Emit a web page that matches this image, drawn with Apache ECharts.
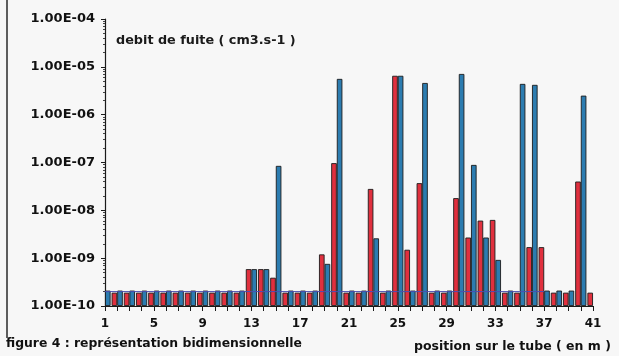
<!DOCTYPE html>
<html>
<head>
<meta charset="utf-8">
<script src="https://cdn.jsdelivr.net/npm/echarts@6/dist/echarts.min.js"></script>
<style>
  html, body { margin: 0; padding: 0; background: #f7f7f7; }
  #chart { width: 619px; height: 356px; }
</style>
</head>
<body>
<div id="chart"></div>
<script>
// Positions along the tube (m)
const positions = ['1','2','3','4','5','6','7','8','9','10','11','12','13','14','15','16','17','18','19','20',
  '21','22','23','24','25','26','27','28','29','30','31','32','33','34','35','36','37','38','39','40','41'];

// Leak rate, first measurement (cm3.s-1); nothing recorded before position 1
const leakRed = [null,1.9e-10,1.9e-10,1.9e-10,1.9e-10,1.9e-10,1.9e-10,1.9e-10,1.9e-10,1.9e-10,
  1.9e-10,1.9e-10,5.9e-10,5.9e-10,3.9e-10,1.9e-10,1.9e-10,1.9e-10,1.2e-9,9.7e-8,
  1.9e-10,1.9e-10,2.8e-8,1.9e-10,6.5e-6,1.5e-9,3.7e-8,1.9e-10,1.9e-10,1.8e-8,
  2.7e-9,6.1e-9,6.3e-9,1.9e-10,1.9e-10,1.7e-9,1.7e-9,1.9e-10,1.9e-10,4.0e-8,1.9e-10];

// Leak rate, second measurement (cm3.s-1); nothing recorded after position 40
const leakBlue = [2.1e-10,2.1e-10,2.1e-10,2.1e-10,2.1e-10,2.1e-10,2.1e-10,2.1e-10,2.1e-10,2.1e-10,
  2.1e-10,2.1e-10,5.9e-10,5.9e-10,8.5e-8,2.1e-10,2.1e-10,2.1e-10,7.6e-10,5.6e-6,
  2.1e-10,2.1e-10,2.6e-9,2.1e-10,6.5e-6,2.1e-10,4.6e-6,2.1e-10,2.1e-10,7.1e-6,
  8.9e-8,2.7e-9,9.2e-10,2.1e-10,4.4e-6,4.2e-6,2.1e-10,2.1e-10,2.1e-10,2.5e-6,null];

// Detection floor line
const floorLine = [2e-10,2e-10,2e-10,2e-10,2e-10,2e-10,2e-10,2e-10,2e-10,2e-10,
  2e-10,2e-10,2e-10,2e-10,2e-10,2e-10,2e-10,2e-10,2e-10,2e-10,
  2e-10,2e-10,2e-10,2e-10,2e-10,2e-10,2e-10,2e-10,2e-10,2e-10,
  2e-10,2e-10,2e-10,2e-10,2e-10,2e-10,2e-10,null,null,null,null];

// Y scale limits (cm3.s-1)
const yMin = 1e-10;
const yMax = 1e-4;

// The log axis grows bars from 1, so values are plotted in units of yMin
// to make the bars rise from the bottom of the axis.
const inUnits = arr => arr.map(v => (v == null ? null : v / yMin));

const FONT = '"DejaVu Sans", Verdana, sans-serif';

function sciLabel(u) {
  const v = u * yMin;
  const e = Math.round(Math.log10(v));
  const m = v / Math.pow(10, e);
  const a = Math.abs(e);
  return m.toFixed(2) + 'E' + (e < 0 ? '-' : '') + (a < 10 ? '0' + a : a);
}

const chart = echarts.init(document.getElementById('chart'), null, { renderer: 'canvas' });
chart.setOption({
  backgroundColor: '#f7f7f7',
  animation: false,
  grid: { left: 105, right: 26, top: 19, bottom: 50, containLabel: false },
  xAxis: {
    type: 'category',
    data: positions,
    boundaryGap: false,
    axisLine: { lineStyle: { color: '#1a1a1a', width: 1.2 } },
    axisTick: { show: true, interval: 0, length: 5, lineStyle: { color: '#1a1a1a' } },
    axisLabel: { interval: 3, margin: 12, color: '#111', fontFamily: FONT, fontWeight: 'bold', fontSize: 12 },
    splitLine: { show: false }
  },
  yAxis: {
    type: 'log',
    logBase: 10,
    min: 1,
    max: yMax / yMin,
    splitNumber: 6,
    axisLine: { show: true, lineStyle: { color: '#1a1a1a', width: 1.2 } },
    axisTick: { show: true, length: 4, lineStyle: { color: '#1a1a1a' } },
    minorTick: { show: true, splitNumber: 9, length: 2, lineStyle: { color: '#444' } },
    axisLabel: { margin: 10, color: '#111', fontFamily: FONT, fontWeight: 'bold', fontSize: 13, formatter: sciLabel },
    splitLine: { show: false }
  },
  series: [
    {
      type: 'bar', name: 'mesure 1', data: inUnits(leakRed),
      barWidth: 5.6, barGap: '0%',
      itemStyle: { color: '#e0303e', borderColor: '#1c1c1c', borderWidth: 0.9 }
    },
    {
      type: 'bar', name: 'mesure 2', data: inUnits(leakBlue),
      barWidth: 5.6, barGap: '0%',
      itemStyle: { color: '#2c7cb0', borderColor: '#1c1c1c', borderWidth: 0.9 }
    },
    {
      type: 'line', data: inUnits(floorLine), symbol: 'none', z: 5,
      lineStyle: { color: '#4a4fb0', width: 1 }
    }
  ],
  graphic: [
    { type: 'line', shape: { x1: 7, y1: 0, x2: 7, y2: 338 }, style: { stroke: '#2a2a2a', lineWidth: 1.5 } },
    { type: 'text', left: 116, top: 34,
      style: { text: 'debit de fuite ( cm3.s-1 )', fill: '#1a1a1a', font: 'bold 12.8px ' + FONT } },
    { type: 'text', left: 6, top: 338,
      style: { text: 'figure 4 : représentation bidimensionnelle', fill: '#111', font: 'bold 12.4px ' + FONT } },
    { type: 'text', left: 414, top: 340,
      style: { text: 'position sur le tube ( en m )', fill: '#111', font: 'bold 12.5px ' + FONT } }
  ]
});
</script>
</body>
</html>
